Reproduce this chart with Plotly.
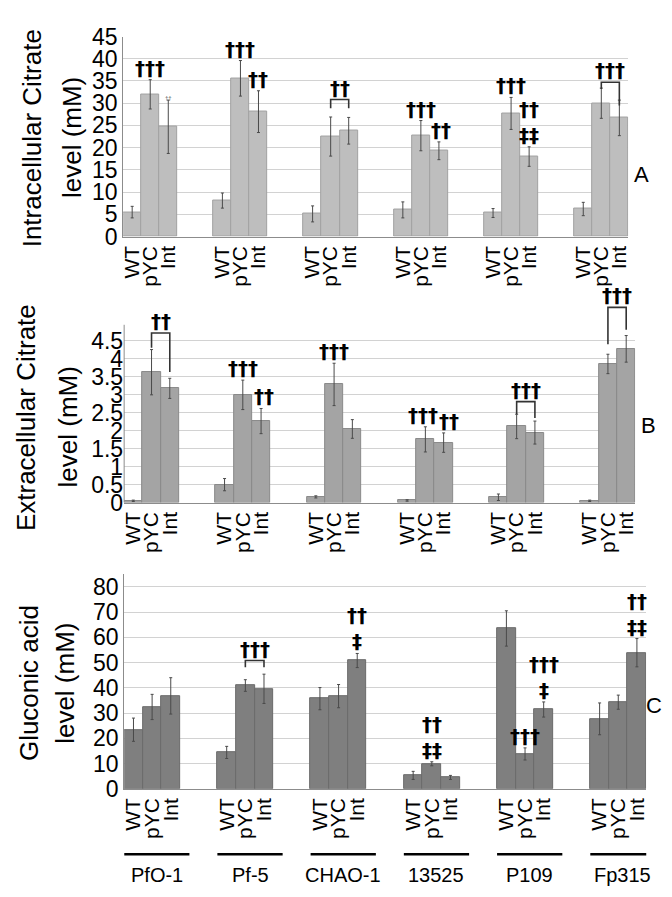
import plotly.graph_objects as go

# ---------------- data ----------------
strains = ["PfO-1", "Pf-5", "CHAO-1", "13525", "P109", "Fp315"]
conds = ["WT", "pYC", "Int"]

intra_wt = [5.5, 8.1, 5.1, 6.0, 5.3, 6.2]
intra_wt_err = [1.3, 1.7, 1.8, 1.8, 1.0, 1.5]
intra_pyc = [32.0, 35.6, 22.5, 22.7, 27.7, 30.0]
intra_pyc_err = [3.3, 4.0, 4.4, 3.4, 3.6, 3.4]
intra_int = [24.7, 28.1, 23.8, 19.3, 18.0, 26.7]
intra_int_err = [6.0, 4.7, 3.0, 2.0, 2.2, 4.0]

extra_wt = [0.05, 0.5, 0.16, 0.06, 0.15, 0.05]
extra_wt_err = [0.02, 0.17, 0.03, 0.02, 0.09, 0.02]
extra_pyc = [3.63, 3.0, 3.29, 1.76, 2.12, 3.86]
extra_pyc_err = [0.63, 0.41, 0.59, 0.35, 0.34, 0.27]
extra_int = [3.18, 2.27, 2.05, 1.67, 1.95, 4.28]
extra_int_err = [0.28, 0.35, 0.26, 0.27, 0.32, 0.37]

glu_wt = [23.4, 14.4, 35.7, 5.3, 63.5, 27.7]
glu_wt_err = [4.6, 2.4, 4.4, 1.6, 7.0, 6.3]
glu_pyc = [32.4, 40.9, 36.7, 9.9, 13.8, 34.3]
glu_pyc_err = [5.0, 2.3, 4.6, 0.8, 2.4, 2.8]
glu_int = [36.8, 39.6, 50.8, 4.5, 31.4, 53.9]
glu_int_err = [7.2, 5.8, 2.8, 0.8, 3.0, 5.6]

ticks_a = [0, 5, 10, 15, 20, 25, 30, 35, 40, 45]
ticks_b = [0, 0.5, 1, 1.5, 2, 2.5, 3, 3.5, 4, 4.5]
ticks_c = [0, 10, 20, 30, 40, 50, 60, 70, 80]

# significance marks: (group, bar, text, x-offset px)
marks_a = [(0, 1, "†††", 0), (1, 1, "†††", 0), (1, 2, "††", 0), (3, 1, "†††", 0), (3, 2, "††", 2),
           (4, 1, "†††", 0), (4, 2, "††<br>‡‡", 0)]
marks_b = [(1, 1, "†††", 0), (1, 2, "††", 3), (2, 1, "†††", 0), (3, 1, "†††", -2), (3, 2, "††", 5)]
marks_c = [(2, 2, "††<br>‡", 0), (3, 1, "††<br>‡‡", 0), (4, 1, "†††", 0), (4, 2, "†††<br>‡", 0),
           (5, 2, "††<br>‡‡", 0)]
# brackets pYC-Int: (group, text)
brk_a = [(2, "††"), (5, "†††")]
brk_b = [(0, "††"), (4, "†††"), (5, "†††")]
brk_c = [(1, "†††")]

# ---------------- layout geometry (pixels) ----------------
W, H = 672, 897
FONT = "Liberation Sans, Arial, sans-serif"
MARKFONT = dict(size=20, color="black", family="DejaVu Sans, Liberation Sans", weight="bold")


def ydom(top, bottom):
    return [1 - bottom / H, 1 - top / H]


def xdom(left, right):
    return [left / W, right / W]


panels = [
    dict(vals=[intra_wt, intra_pyc, intra_int], errs=[intra_wt_err, intra_pyc_err, intra_int_err],
         color="#bebebe", line="#a2a2a2", xd=xdom(113, 622), yd=ydom(16, 222), rng=[0, 45],
         ticks=ticks_a, marks=marks_a, brk=brk_a,
         brk_px=[(18, 9, 9), (6, 7, 24)]),
    dict(vals=[extra_wt, extra_pyc, extra_int], errs=[extra_wt_err, extra_pyc_err, extra_int_err],
         color="#a4a4a4", line="#8a8a8a", xd=xdom(114, 629), yd=ydom(292.5, 496), rng=[0, 5.5],
         ticks=ticks_b, marks=marks_b, brk=brk_b,
         brk_px=[(17, 15, 40), (13, 13, 17), (29, 38, 23)]),
    dict(vals=[glu_wt, glu_pyc, glu_int], errs=[glu_wt_err, glu_pyc_err, glu_int_err],
         color="#7f7f7f", line="#6a6a6a", xd=xdom(114, 640), yd=ydom(569.7, 790.7), rng=[0, 85],
         ticks=ticks_c, marks=marks_c, brk=brk_c,
         brk_px=[(14, 7, 7)]),
]

fig = go.Figure()
annotations = []
shapes = []

for p, P in enumerate(panels):
    sx = "" if p == 0 else str(p + 1)
    xa, ya = "x" + sx, "y" + sx
    xs, ys, es, lab = [], [], [], []
    for g in range(len(strains)):
        for j in range(3):
            xs.append(5 * g + j)
            ys.append(P["vals"][j][g])
            es.append(P["errs"][j][g])
            lab.append(conds[j])
    fig.add_trace(go.Bar(
        x=xs, y=ys, width=1, xaxis=xa, yaxis=ya, showlegend=False,
        marker=dict(color=P["color"], line=dict(color=P["line"], width=1)),
        error_y=dict(type="data", array=es, color="#4a4a4a", thickness=1, width=1.5),
    ))
    dom_h = (P["yd"][1] - P["yd"][0]) * H
    ppu = dom_h / (P["rng"][1] - P["rng"][0])
    fig.layout["xaxis" + sx] = dict(
        domain=P["xd"], anchor=ya, range=[-0.5, 27.5], tickmode="array", tickvals=xs,
        ticktext=lab, tickangle=-90, showgrid=False, zeroline=False, showline=True,
        linecolor="#8c8c8c", linewidth=1, ticks="", tickfont=dict(size=21, color="black", family=FONT),
    )
    fig.layout["yaxis" + sx] = dict(
        domain=P["yd"], anchor=xa, range=P["rng"], tickmode="array", tickvals=P["ticks"],
        ticktext=[("%g" % t) for t in P["ticks"]], showgrid=True, gridcolor="#d2d2d2",
        gridwidth=1, zeroline=False, showline=(p != 1), linecolor="#8c8c8c", linewidth=1,
        ticks="", tickfont=dict(size=23, color="black", family=FONT),
    )
    if p == 1:
        shapes.append(dict(type="line", xref="x2 domain", yref="y2", x0=0, x1=0, y0=0, y1=4.95,
                           line=dict(color="#8c8c8c", width=1)))
    # significance marks
    for g, j, t, dx in P["marks"]:
        top = P["vals"][j][g] + P["errs"][j][g]
        annotations.append(dict(x=5 * g + j, y=top, xref=xa, yref=ya, text=t, showarrow=False,
                                yanchor="bottom", yshift=-2, xshift=dx, font=MARKFONT))
    # brackets
    for (g, t), (lift, legl, legr) in zip(P["brk"], P["brk_px"]):
        tops = [P["vals"][j][g] + P["errs"][j][g] for j in (1, 2)]
        ytop = max(tops) + lift / ppu
        x1, x2 = 5 * g + 1, 5 * g + 2
        shapes.append(dict(type="path", xref=xa, yref=ya,
                           path="M %f,%f L %f,%f L %f,%f L %f,%f" % (
                               x1, ytop - legl / ppu, x1, ytop, x2, ytop, x2, ytop - legr / ppu),
                           line=dict(color="#333333", width=1.6)))
        annotations.append(dict(x=(x1 + x2) / 2, y=ytop, xref=xa, yref=ya, text=t, showarrow=False,
                                yanchor="bottom", yshift=-2, font=MARKFONT))

# tiny mark on PfO-1 Int (panel A)
annotations.append(dict(x=2, y=intra_int[0] + intra_int_err[0], xref="x", yref="y", text="††",
                        showarrow=False, yanchor="bottom", yshift=-3,
                        font=dict(size=6, color="#555555", family=FONT)))

# y-axis titles
titles = [("Intracellular Citrate", 22, 121), ("level (mM)", 61, 120),
          ("Extracellular Citrate", 15, 408), ("level (mM)", 57, 418),
          ("Gluconic acid", 18, 682), ("level (mM)", 55, 682)]
for t, x, y in titles:
    annotations.append(dict(x=x / W, y=1 - y / H, xref="paper", yref="paper", text=t,
                            textangle=-90, showarrow=False, xanchor="center", yanchor="middle",
                            font=dict(size=26, color="black", family=FONT)))

# panel letters
for t, x, y in [("A", 645, 143), ("B", 652, 417), ("C", 658, 720)]:
    annotations.append(dict(x=x / W, y=1 - y / H, xref="paper", yref="paper", text=t,
                            showarrow=False, font=dict(size=22, color="black", family=FONT)))

# strain underlines and names
for g, s in enumerate(strains):
    shapes.append(dict(type="line", xref="x3", yref="paper", x0=5 * g - 0.5, x1=5 * g + 3,
                       y0=1 - 858 / H, y1=1 - 858 / H, line=dict(color="black", width=2.5)))
    annotations.append(dict(x=5 * g + 1.25, y=1 - 880 / H, xref="x3", yref="paper", text=s,
                            showarrow=False, yanchor="middle",
                            font=dict(size=20, color="black", family=FONT)))

fig.update_layout(width=W, height=H, margin=dict(l=0, r=0, t=0, b=0),
                  paper_bgcolor="white", plot_bgcolor="white", bargap=0,
                  annotations=annotations, shapes=shapes, showlegend=False)
fig.write_html("out.html")
